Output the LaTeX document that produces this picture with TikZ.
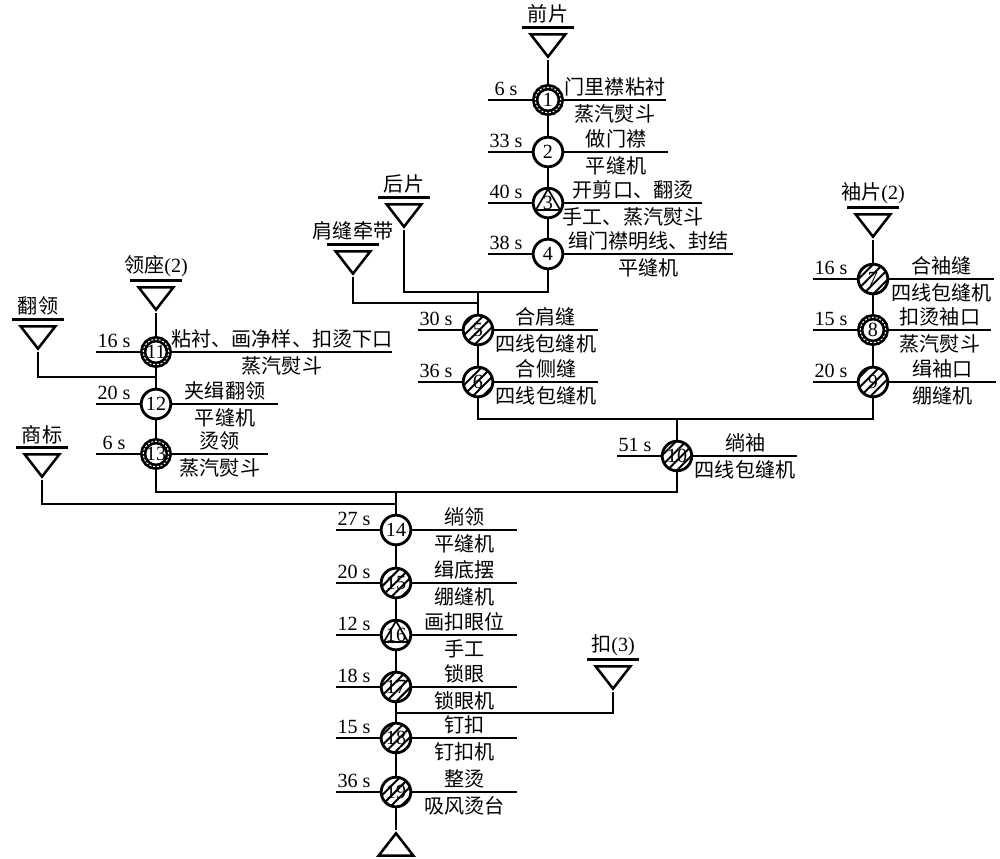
\documentclass[tikz,border=0pt]{standalone}
\usepackage{fontspec}
\setmainfont{Liberation Serif}
\newfontfamily\cjk{Noto Sans CJK SC}
\usetikzlibrary{positioning,calc}
\usetikzlibrary{shapes.geometric,patterns.meta}

\newcommand{\oper}[7]{%
	\node [#3] (n#1) at (#2) {#1};
	\coordinate (l#1) at ($(n#1)+(-60,0)$);
	\coordinate (r#1) at ($(n#1)+(#5,0)$);
	\draw (l#1) -- (n#1) -- (r#1);
	\node [time] (t#1) at ($(n#1)+(-42,0)$) {#4};
	\node [task] (a#1) at ($(n#1.east)!0.5!(r#1)$) {\cjk #6};
	\node [tool] (b#1) at ($(n#1.east)!0.5!(r#1)$) {\cjk #7};
}
\newcommand{\piece}[3]{%
	\node [part, anchor=apex] (s#1) at (#2) {};
	\node [tag, above=0.13cm of s#1] (q#1) {#3};
	\draw ([xshift=-0.65cm]q#1.south) -- ([xshift=0.65cm]q#1.south);
}

\begin{document}
\begin{tikzpicture}[x=0.025cm,y=-0.025cm,line width=2pt,font=\fontsize{14.3}{17}\selectfont]
\tikzstyle{sew}=[circle,draw,fill=white,line width=2pt,minimum size=0.74cm,inner sep=-3pt]
\tikzstyle{iron}=[sew,line width=4.5pt,minimum size=0.64cm,postaction={draw=white,line width=0.7pt,dash pattern=on 1.5pt off 1.2pt}]
\tikzstyle{manual}=[sew,path picture={\draw[line width=1.2pt] ($(path picture bounding box.center)+(90:0.35cm)$) -- ($(path picture bounding box.center)+(210:0.35cm)$) -- ($(path picture bounding box.center)+(330:0.35cm)$) -- cycle;}]
\tikzstyle{machine}=[sew,preaction={fill=white},pattern={Lines[angle=45,distance=5pt,line width=1.4pt]}]
\tikzstyle{part}=[isosceles triangle,isosceles triangle stretches,shape border rotate=270,draw,line width=1.8pt,inner sep=0pt,minimum width=0.87cm,minimum height=0.56cm]
\tikzstyle{tag}=[inner sep=2pt]
\tikzstyle{time}=[anchor=south,inner sep=2pt]
\tikzstyle{task}=[anchor=south,inner sep=1.5pt]
\tikzstyle{tool}=[anchor=north,inner sep=2pt]
\useasboundingbox (0,0) rectangle (1000,859);

\piece{1}{548,60}{\cjk 前片}
\piece{2}{404,230}{\cjk 后片}
\piece{3}{353,277}{\cjk 肩缝牵带}
\piece{4}{873,240}{{\cjk 袖片}(2)}
\piece{5}{156,313}{{\cjk 领座}(2)}
\piece{6}{38,352}{\cjk 翻领}
\piece{7}{42,480}{\cjk 商标}
\piece{8}{613,692}{{\cjk 扣}(3)}
\node [part,shape border rotate=90,anchor=apex] (e) at (396,830) {};

\oper{1}{548,100}{iron}{6 s}{118}{门里襟粘衬}{蒸汽熨斗}
\oper{2}{548,152}{sew}{33 s}{120}{做门襟}{平缝机}
\oper{3}{548,203}{manual}{40 s}{154}{开剪口、翻烫}{手工、蒸汽熨斗}
\oper{4}{548,254}{sew}{38 s}{185}{缉门襟明线、封结}{平缝机}
\oper{5}{478,330}{machine}{30 s}{120}{合肩缝}{四线包缝机}
\oper{6}{478,382}{machine}{36 s}{120}{合侧缝}{四线包缝机}
\oper{7}{873,279}{machine}{16 s}{121}{合袖缝}{四线包缝机}
\oper{8}{873,330}{iron}{15 s}{118}{扣烫袖口}{蒸汽熨斗}
\oper{9}{873,382}{machine}{20 s}{123}{缉袖口}{绷缝机}
\oper{10}{677,456}{machine}{51 s}{120}{绱袖}{四线包缝机}
\oper{11}{156,352}{iron}{16 s}{236}{粘衬、画净样、扣烫下口}{蒸汽熨斗}
\oper{12}{156,404}{sew}{20 s}{122}{夹缉翻领}{平缝机}
\oper{13}{156,454}{iron}{6 s}{112}{烫领}{蒸汽熨斗}
\oper{14}{396,530}{sew}{27 s}{121}{绱领}{平缝机}
\oper{15}{396,583}{machine}{20 s}{121}{缉底摆}{绷缝机}
\oper{16}{396,635}{manual}{12 s}{121}{画扣眼位}{手工}
\oper{17}{396,687}{machine}{18 s}{121}{锁眼}{锁眼机}
\oper{18}{396,738}{machine}{15 s}{121}{钉扣}{钉扣机}
\oper{19}{396,792}{machine}{36 s}{121}{整烫}{吸风烫台}

\coordinate (j1) at (478,292);
\coordinate (j2) at (478,303);
\coordinate (j3) at (677,419);
\coordinate (j4) at (156,377);
\coordinate (j5) at (396,492);
\coordinate (j6) at (396,504);
\coordinate (j7) at (396,713);

\draw (s1.apex) -- (n1) -- (n2) -- (n3) -- (n4) |- (j1);
\draw (s2.apex) |- (j1);
\draw (s3.apex) |- (j2);
\draw (j1) -- (n5) -- (n6) |- (j3);
\draw (s4.apex) -- (n7) -- (n8) -- (n9) |- (j3);
\draw (j3) -- (n10) |- (j5);
\draw (s5.apex) -- (n11) -- (n12) -- (n13) |- (j5);
\draw (s6.apex) |- (j4);
\draw (s7.apex) |- (j6);
\draw (j5) -- (n14) -- (n15) -- (n16) -- (n17) -- (n18) -- (n19) -- (e.apex);
\draw (s8.apex) |- (j7);
\end{tikzpicture}
\end{document}
